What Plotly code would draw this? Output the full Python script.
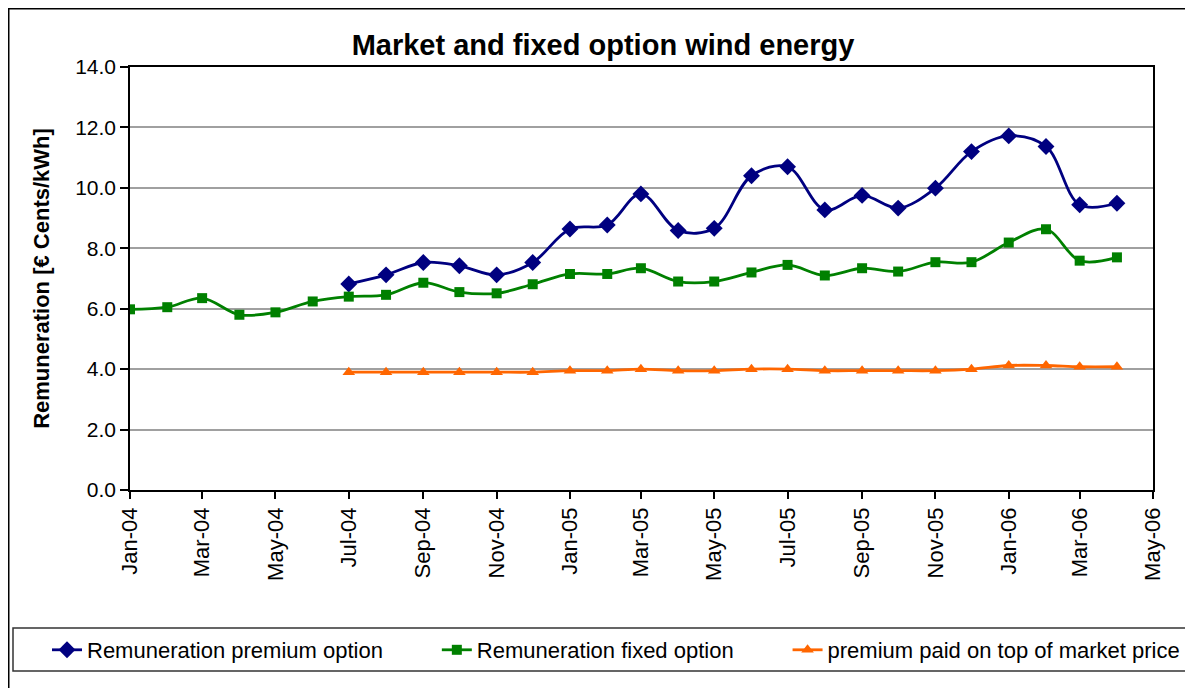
import plotly.graph_objects as go
import pandas as pd

months_all = pd.date_range("2004-01-01", "2006-04-01", freq="MS")
months_late = pd.date_range("2004-07-01", "2006-04-01", freq="MS")

premium_option = [6.82, 7.12, 7.53, 7.42, 7.12, 7.53, 8.64, 8.77, 9.8, 8.59, 8.66,
                  10.4, 10.7, 9.27, 9.75, 9.33, 9.99, 11.2, 11.72, 11.37, 9.44, 9.49]
fixed_option = [5.98, 6.05, 6.35, 5.8, 5.88, 6.24, 6.4, 6.46, 6.86, 6.55, 6.51, 6.81,
                7.15, 7.15, 7.34, 6.9, 6.9, 7.2, 7.45, 7.1, 7.34, 7.23, 7.54, 7.54,
                8.19, 8.63, 7.59, 7.7]
premium_on_top = [3.9, 3.9, 3.9, 3.9, 3.9, 3.9, 3.95, 3.95, 4.0, 3.95, 3.95,
                  4.0, 4.0, 3.95, 3.95, 3.95, 3.95, 4.0, 4.12, 4.12, 4.08, 4.08]

names = ["Remuneration premium option", "Remuneration fixed option",
         "premium paid on top of market price"]

FONT = "Liberation Sans, Arial, sans-serif"
NB = "\u00a0"

fig = go.Figure()
fig.add_trace(go.Scatter(
    x=months_late, y=premium_option, name=names[0] + NB * 8,
    mode="lines+markers", line=dict(color="#000080", width=2.8, shape="spline", smoothing=1),
    marker=dict(symbol="diamond", size=13, color="#000080")))
fig.add_trace(go.Scatter(
    x=months_all, y=fixed_option, name=names[1] + NB * 8,
    mode="lines+markers", line=dict(color="#008000", width=2.8, shape="spline", smoothing=1),
    marker=dict(symbol="square", size=10, color="#008000")))
fig.add_trace(go.Scatter(
    x=months_late, y=premium_on_top, name=names[2],
    mode="lines+markers", line=dict(color="#FF6600", width=2.8, shape="spline", smoothing=1),
    marker=dict(symbol="triangle-up", size=11, color="#FF6600")))

OFF = 8  # page body margin
W, H = 1185, 680
# plot area in screen pixels: x 130..1153, y 67..490
L = 130 - OFF
T = 67 - OFF
R = W - (1153 - OFF)
B = H - (490 - OFF)
pw, ph = W - L - R, H - T - B

def px(x):
    return (x - OFF - L) / pw

def py(y):
    return (H - B - (y - OFF)) / ph

fig.update_layout(
    width=W, height=H,
    margin=dict(l=L, r=R, t=T, b=B),
    paper_bgcolor="white", plot_bgcolor="white",
    font=dict(family=FONT, color="black", size=21),
    title=dict(text="<b>Market and fixed option wind energy</b>",
               font=dict(size=29, family=FONT, color="black"),
               x=px(603), xref="paper", xanchor="center",
               y=1 - (45 - OFF) / H, yref="container", yanchor="middle"),
    showlegend=True,
    legend=dict(orientation="h", x=px(47), xanchor="left", y=py(650), yanchor="middle",
                font=dict(size=22, family=FONT, color="black"),
                borderwidth=0, bgcolor="rgba(0,0,0,0)"),
    xaxis=dict(type="date", range=["2004-01-01", "2006-05-01"],
               tick0="2004-01-01", dtick="M2", tickformat="%b-%y", tickangle=-90,
               ticks="outside", ticklen=7, tickcolor="black", tickwidth=1.5,
               showline=True, linecolor="black", linewidth=1.5, mirror=True,
               showgrid=False, zeroline=False, tickfont=dict(size=22)),
    yaxis=dict(range=[0, 14], dtick=2, tickformat=".1f",
               ticks="outside", ticklen=8, tickcolor="black", tickwidth=1.5,
               showline=True, linecolor="black", linewidth=1.5, mirror=True,
               showgrid=True, gridcolor="#a0a0a0", gridwidth=1.5, zeroline=False,
               tickfont=dict(size=21),
               title=dict(text="<b>Remuneration [€ Cents/kWh]</b>",
                          font=dict(size=22, family=FONT), standoff=19)),
    shapes=[
        dict(type="rect", xref="paper", yref="paper",
             x0=px(OFF + 0.75), x1=px(1220), y0=py(720), y1=py(OFF + 0.75),
             line=dict(color="black", width=1.5), fillcolor="rgba(0,0,0,0)", layer="below"),
        dict(type="rect", xref="paper", yref="paper",
             x0=px(13), x1=px(1187), y0=py(671), y1=py(628),
             line=dict(color="#333333", width=1.5), fillcolor="rgba(0,0,0,0)", layer="below"),
    ],
)

fig.write_html("out.html")
